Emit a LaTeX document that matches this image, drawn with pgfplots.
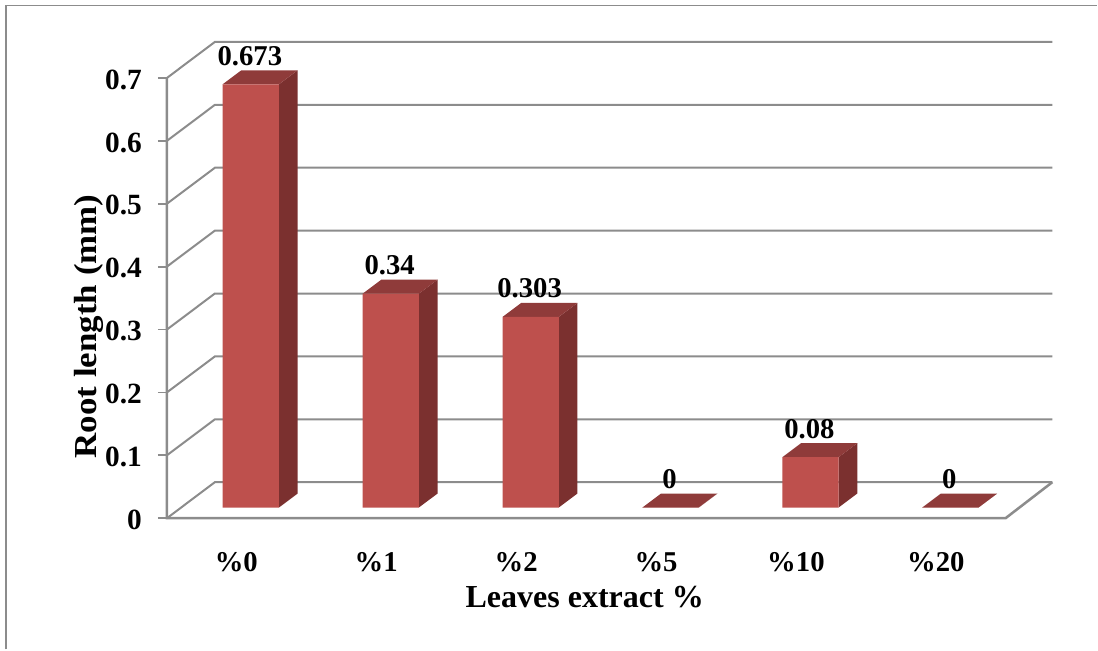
\documentclass[border=0pt]{standalone}
\usepackage{fontspec}
\setmainfont{Liberation Serif}
\usepackage{pgfplots}
\usepackage{pgfplotstable}
\pgfplotsset{compat=1.18}

\definecolor{barfront}{HTML}{BE504D}
\definecolor{barside}{HTML}{7B302F}
\definecolor{bartop}{HTML}{8F3B3A}
\definecolor{wall}{HTML}{8C8C8C}

\pgfplotstableread{
pos val
0 0.673
1 0.34
2 0.303
3 0
4 0.08
5 0
}\bartable

% Depth of a bar and of the chart's floor, in axis units
\def\barhalf{0.2011}
\def\bardx{0.1336}
\def\bardy{0.02227}
\def\walldx{0.3429}
\def\walldy{0.05727}
% Value at which the front edge of the floor sits
\def\floory{-0.01702}
\def\xleft{-0.6}
\def\xright{5.7286}
\def\xfront{5.3943}

\newcommand{\labelfont}[1]{\bfseries\fontsize{#1}{#1}\selectfont}

\begin{document}
\begin{tikzpicture}
\begin{axis}[
  scale only axis,
  width=663.75pt, height=357pt,
  clip=false,
  xmin=-0.6, xmax=5.7286,
  ymin=-0.01702, ymax=0.74022,
  axis x line*=bottom, axis y line*=left,
  axis line style={draw=none},
  tick align=outside,
  xtick={0,1,2,3,4,5},
  xticklabels={\%0,\%1,\%2,\%5,\%10,\%20},
  x tick style={draw=none},
  major tick length=6.75pt,
  ytick={-0.01702,0.08298,0.18298,0.28298,0.38298,0.48298,0.58298,0.68298},
  yticklabels={0,0.1,0.2,0.3,0.4,0.5,0.6,0.7},
  y tick style={draw=wall, line width=1.4pt},
  x tick label style={font=\labelfont{21.5pt}, anchor=base, xshift=-10.9pt, yshift=-33pt},
  y tick label style={font=\labelfont{22pt}, anchor=east, inner sep=0pt, xshift=-11.8pt, yshift=-1.2pt},
  xlabel={Leaves extract \%},
  ylabel={\scalebox{1.09}[1]{Root length (mm)}},
  every axis x label/.style={at={(axis cs:2.386,-0.1425)}, anchor=center, font=\labelfont{24pt}},
  every axis y label/.style={at={(axis cs:-1.157,0.288)}, anchor=center, rotate=90, font=\labelfont{24pt}},
]
% Outer frame of the figure and the extent of the page
\path (axis cs:-1.7929,-0.2254) rectangle (axis cs:6.05,0.807);
\addplot[wall, line width=1.1pt] coordinates {(-1.75,-0.2254) (-1.75,0.7983) (6.05,0.7983)};

% Gridlines across the side wall and the back wall
\pgfplotsinvokeforeach{0,...,7}{
  \pgfmathsetmacro\ya{\floory+0.1*#1}
  \pgfmathsetmacro\yb{\ya+\walldy}
  \pgfmathsetmacro\xb{\xleft+\walldx}
  \edef\gridline{\noexpand\addplot[wall, line width=1.5pt] coordinates {(\xleft,\ya) (\xb,\yb) (\xright,\yb)};}
  \gridline
}
% Floor outline and vertical axis
\pgfmathsetmacro\floorback{\floory+\walldy}
\edef\floorline{\noexpand\addplot[wall, line width=1.9pt] coordinates {(\xleft,0.68298) (\xleft,\floory) (\xfront,\floory) (\xright,\floorback)};}
\floorline

% Side and top faces of each bar
\pgfplotsinvokeforeach{0,...,5}{
  \pgfplotstablegetelem{#1}{val}\of\bartable
  \edef\v{\pgfplotsretval}
  \pgfmathsetmacro\xa{#1-\barhalf}
  \pgfmathsetmacro\xb{#1+\barhalf}
  \pgfmathsetmacro\xc{\xa+\bardx}
  \pgfmathsetmacro\xd{\xb+\bardx}
  \pgfmathsetmacro\ybase{\bardy}
  \pgfmathsetmacro\ytop{\v+\bardy}
  \edef\sideface{\noexpand\addplot[fill=barside, draw=none] coordinates {(\xb,0) (\xd,\ybase) (\xd,\ytop) (\xb,\v)} --cycle;}
  \sideface
  \edef\topface{\noexpand\addplot[fill=bartop, draw=none] coordinates {(\xa,\v) (\xb,\v) (\xd,\ytop) (\xc,\ytop)} --cycle;}
  \topface
}

% Front faces, carrying the value labels
\addplot[ybar, bar width=0.4022, fill=barfront, draw=none,
  nodes near coords={\pgfmathprintnumber[fixed,precision=3,assume math mode=true]{\pgfplotspointmeta}},
  nodes near coords style={anchor=base, yshift=14.25pt, xshift=-0.75pt, text=black, font=\labelfont{21.5pt}},
] table[x=pos, y=val] {\bartable};
\end{axis}
\end{tikzpicture}
\end{document}
